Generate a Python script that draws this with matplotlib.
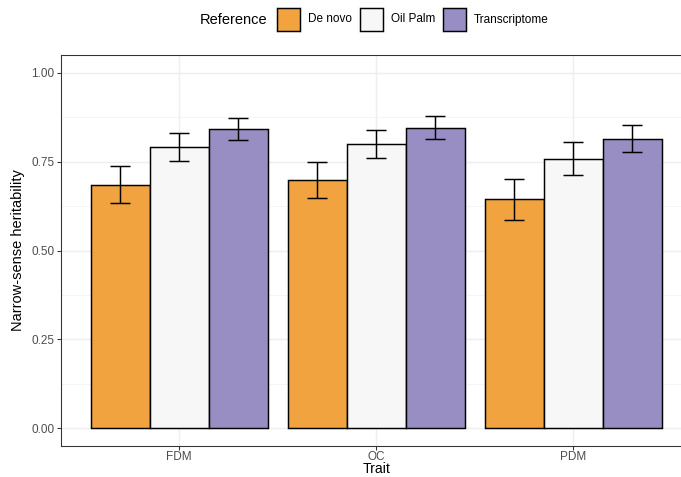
import matplotlib
matplotlib.use('Agg')
import matplotlib.pyplot as plt
from matplotlib.patches import Rectangle
import numpy as np

plt.rcParams['font.family'] = ['Liberation Sans', 'DejaVu Sans']

traits = ['FDM', 'OC', 'PDM']
references = ['De novo', 'Oil Palm', 'Transcriptome']
colors = ['#F1A340', '#F7F7F7', '#998EC3']

# narrow-sense heritability with lower / upper error bar ends
denovo_h2 = [0.685, 0.699, 0.644]
denovo_lo = [0.633, 0.648, 0.587]
denovo_hi = [0.738, 0.750, 0.702]

oilpalm_h2 = [0.792, 0.799, 0.758]
oilpalm_lo = [0.752, 0.760, 0.713]
oilpalm_hi = [0.831, 0.838, 0.804]

transcriptome_h2 = [0.841, 0.845, 0.813]
transcriptome_lo = [0.810, 0.813, 0.776]
transcriptome_hi = [0.874, 0.877, 0.852]

yticks = [0.0, 0.25, 0.5, 0.75, 1.0]
yticklabels = ['0.00', '0.25', '0.50', '0.75', '1.00']

series = [
    (denovo_h2, denovo_lo, denovo_hi),
    (oilpalm_h2, oilpalm_lo, oilpalm_hi),
    (transcriptome_h2, transcriptome_lo, transcriptome_hi),
]

DPI = 96
W, H = 681, 477
fig = plt.figure(figsize=(W / DPI, H / DPI), dpi=DPI)
# panel runs a bit past the right edge, like the cropped original
ax = fig.add_axes([61 / W, 1 - 446 / H, 630.6 / W, 391 / H])

x = np.arange(len(traits)) + 1
bar_w = 0.3
for i, (vals, lo, hi) in enumerate(series):
    vals = np.array(vals)
    pos = x + (i - 1) * bar_w
    ax.bar(pos, vals, width=bar_w, color=colors[i], edgecolor='black',
           linewidth=1.1, zorder=3)
    ax.errorbar(pos, vals, yerr=[vals - np.array(lo), np.array(hi) - vals],
                fmt='none', ecolor='black', elinewidth=1.1, capsize=7.5,
                capthick=1.1, zorder=4)

ax.set_xlim(0.4, 3.6)
ax.set_ylim(-0.05, 1.05)
ax.set_xticks(x)
ax.set_xticklabels(traits)
ax.set_yticks(yticks)
ax.set_yticklabels(yticklabels)
ax.set_yticks([0.125, 0.375, 0.625, 0.875], minor=True)
ax.tick_params(axis='x', which='minor', bottom=False)
ax.tick_params(which='minor', length=0)
ax.tick_params(which='major', color='#333333', length=2.75, width=0.8,
               labelsize=8.8, labelcolor='#4D4D4D', pad=2.2)
ax.tick_params(axis='x', which='major', pad=1.2)

ax.grid(True, which='major', color='#EEEEEE', linewidth=1.1, zorder=0)
ax.grid(True, which='minor', axis='y', color='#F2F2F2', linewidth=0.55, zorder=0)
ax.set_axisbelow(True)
for sp in ax.spines.values():
    sp.set_color('#333333')
    sp.set_linewidth(0.8)

ax.set_xlabel('Trait', fontsize=10.5, labelpad=-0.6)
ax.set_ylabel('Narrow-sense heritability', fontsize=11, labelpad=4.5)

# legend on top, horizontal with title on the left
renderer = fig.canvas.get_renderer()
key = 23
cy = 1 - 19.5 / H
xpix = 200
t = fig.text(xpix / W, cy, 'Reference', fontsize=11, va='center', ha='left')
xpix += t.get_window_extent(renderer).width + 9
for name, col in zip(references, colors):
    fig.patches.append(Rectangle((xpix / W, cy - key / 2 / H), key / W, key / H,
                                 transform=fig.transFigure, facecolor=col,
                                 edgecolor='black', linewidth=1.1))
    xpix += key + 8
    t = fig.text(xpix / W, cy, name, fontsize=8.8, va='center', ha='left')
    xpix += t.get_window_extent(renderer).width + 8

fig.savefig('out.png', dpi=DPI)
